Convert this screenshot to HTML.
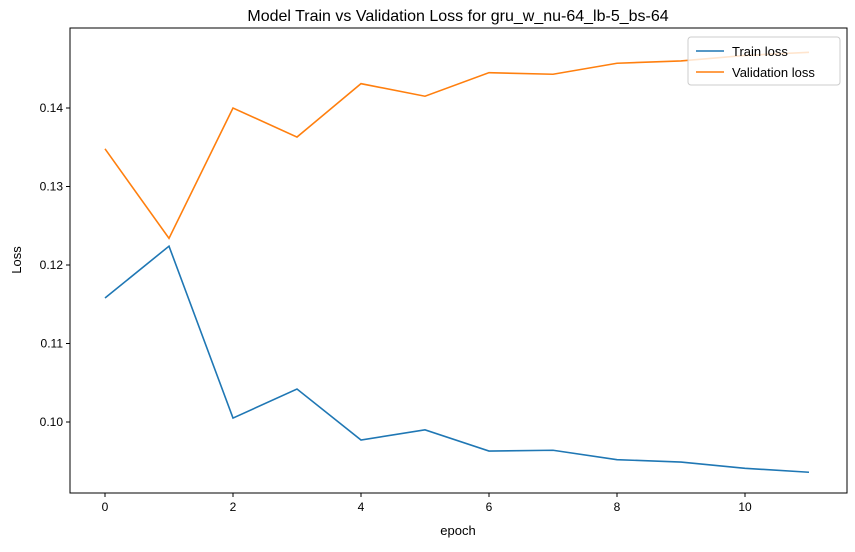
<!DOCTYPE html>
<html><head><meta charset="utf-8"><style>
body{margin:0;background:#fff;}
svg text{font-family:"Liberation Sans","DejaVu Sans",sans-serif;}
</style></head><body>
<svg id="chart" width="855" height="547" viewBox="0 0 855 547">
<rect width="855" height="547" fill="#fff"/>
<text x="458" y="21" text-anchor="middle" font-size="16">Model Train vs Validation Loss for gru_w_nu-64_lb-5_bs-64</text>
<g id="xt"></g>
<g id="yt"></g>
<g id="lines"></g>
<rect x="70" y="28" width="777" height="465" fill="none" stroke="#000" stroke-width="1"/>
<text x="458" y="535" text-anchor="middle" font-size="13">epoch</text>
<text x="0" y="0" transform="translate(21,260) rotate(-90)" text-anchor="middle" font-size="13">Loss</text>
<g>
<rect x="688" y="37" width="152" height="48" rx="3" fill="#fff" fill-opacity="0.8" stroke="#ccc"/>
<line x1="696" y1="51" x2="724" y2="51" stroke="#1f77b4" stroke-width="1.6"/>
<text x="732" y="56" font-size="13">Train loss</text>
<line x1="696" y1="72" x2="724" y2="72" stroke="#ff7f0e" stroke-width="1.6"/>
<text x="732" y="77" font-size="13">Validation loss</text>
</g>
</svg>
<script>
const epochs=[0,1,2,3,4,5,6,7,8,9,10,11];
const trainLoss=[0.1158,0.1224,0.1005,0.1042,0.0977,0.0990,0.0963,0.0964,0.0952,0.0949,0.0941,0.0936];
const valLoss=[0.1348,0.1234,0.1400,0.1363,0.1431,0.1415,0.1445,0.1443,0.1457,0.1460,0.1467,0.1471];
const xTicks=[0,2,4,6,8,10];
const yTicks=[0.10,0.11,0.12,0.13,0.14];
const yTickLabels=["0.10","0.11","0.12","0.13","0.14"];
const NS="http://www.w3.org/2000/svg";
const xs=v=>105+v*64, ys=v=>422-(v-0.10)*7850;
function mk(t,a,p){const e=document.createElementNS(NS,t);for(const k in a)e.setAttribute(k,a[k]);p.appendChild(e);return e;}
const xt=document.getElementById('xt'),yt=document.getElementById('yt'),lg=document.getElementById('lines');
xTicks.forEach(v=>{
 const l=mk('line',{x1:xs(v),x2:xs(v),y1:493,y2:497,stroke:'#000'},xt);
 
 
 const t=mk('text',{x:xs(v),y:511,'text-anchor':'middle','font-size':12},xt);t.textContent=v;
 
 
});
yTicks.forEach((v,i)=>{
 const l=mk('line',{x1:66,x2:70,y1:ys(v),y2:ys(v),stroke:'#000'},yt);
 
 
 const t=mk('text',{x:63,y:ys(v)+4,'text-anchor':'end','font-size':12},yt);t.textContent=yTickLabels[i];
 
 
});
function line(d,c,n){
 const p=mk('polyline',{points:d.map((v,i)=>xs(epochs[i])+','+ys(v)).join(' '),fill:'none',stroke:c,'stroke-width':1.6},lg);
 
 
}
line(trainLoss,'#1f77b4','train-loss-line');
line(valLoss,'#ff7f0e','validation-loss-line');
</script>
</body></html>
